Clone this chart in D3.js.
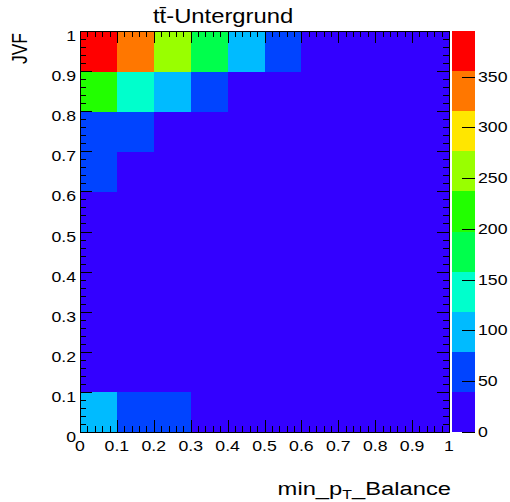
<!DOCTYPE html>
<html>
<head>
<meta charset="utf-8">
<script src="https://cdn.jsdelivr.net/npm/d3@7/dist/d3.min.js"></script>
<style>
  html, body { margin: 0; padding: 0; background: #fff; }
  svg { display: block; font-family: "Liberation Sans", Arial, sans-serif; }
</style>
</head>
<body>
<svg id="chart" width="510" height="502"></svg>
<script>
// ---- data ----
const xEdges = [0, 0.1, 0.2, 0.3, 0.4, 0.5, 0.6, 0.7, 0.8, 0.9, 1.0];
const yEdges = [0, 0.1, 0.2, 0.3, 0.4, 0.5, 0.6, 0.7, 0.8, 0.9, 1.0];
// bin contents, one row per JVF bin (bottom to top), columns = min_pT_Balance bins
const row0 = [95, 55, 50, 12, 8, 6, 5, 4, 3, 3];
const row1 = [22, 14, 9, 6, 5, 4, 3, 3, 2, 2];
const row2 = [20, 12, 8, 6, 5, 4, 3, 2, 2, 2];
const row3 = [20, 12, 8, 6, 4, 3, 3, 2, 2, 1];
const row4 = [22, 13, 9, 6, 5, 4, 3, 2, 2, 2];
const row5 = [28, 16, 10, 7, 5, 4, 3, 3, 2, 2];
const row6 = [45, 25, 15, 10, 8, 6, 4, 3, 2, 2];
const row7 = [60, 48, 30, 18, 12, 8, 6, 4, 3, 2];
const row8 = [215, 140, 100, 55, 30, 18, 10, 6, 4, 3];
const row9 = [395, 330, 255, 180, 100, 52, 30, 15, 8, 5];
const rows = [row0, row1, row2, row3, row4, row5, row6, row7, row8, row9];
const xTickLabels = ["0", "0.1", "0.2", "0.3", "0.4", "0.5", "0.6", "0.7", "0.8", "0.9", "1"];
const yTickLabels = ["0", "0.1", "0.2", "0.3", "0.4", "0.5", "0.6", "0.7", "0.8", "0.9", "1"];
const zTicks = [0, 50, 100, 150, 200, 250, 300, 350];
const paletteColors = ["#3300ff", "#0044ff", "#00bbff", "#00ffcc", "#00ff4c",
                       "#22ff00", "#99ff00", "#ffe600", "#ff7700", "#ff0000"];
const titleText = "tt\u0304-Untergrund";
const xTitle = ["min_p", "T", "_Balance"];
const yTitle = "JVF";

// ---- layout ----
const L = 80, R = 449, T = 31, B = 432;
const palL = 452, palR = 475;
const SX = 1.22;           // horizontal text stretch seen in the reference
const FS = 14.5;           // tick label size

const svg = d3.select("#chart");
const x = d3.scaleLinear().domain([0, 1]).range([L, R]);
const y = d3.scaleLinear().domain([0, 1]).range([B, T]);
const zmax = d3.max(rows.flat());
const z = d3.scaleLinear().domain([0, zmax]).range([B, T]);
const color = d3.scaleQuantize().domain([0, zmax]).range(paletteColors);

// cells
const cells = [];
rows.forEach((r, j) => r.forEach((v, i) => cells.push({i, j, v})));
svg.append("g").selectAll("rect").data(cells).join("rect")
  .attr("x", d => x(xEdges[d.i]))
  .attr("y", d => y(yEdges[d.j + 1]))
  .attr("width", d => x(xEdges[d.i + 1]) - x(xEdges[d.i]) + 0.5)
  .attr("height", d => y(yEdges[d.j]) - y(yEdges[d.j + 1]) + 0.5)
  .attr("fill", d => color(d.v))
  .attr("shape-rendering", "crispEdges");

// palette
const nCol = paletteColors.length;
const bands = paletteColors.map((c, k) => ({c, lo: zmax * k / nCol, hi: zmax * (k + 1) / nCol}));
svg.append("g").selectAll("rect").data(bands).join("rect")
  .attr("x", palL).attr("width", palR - palL)
  .attr("y", d => z(d.hi)).attr("height", d => z(d.lo) - z(d.hi))
  .attr("fill", d => d.c)
  .attr("shape-rendering", "crispEdges");

// tick values
const major = d3.range(0, 11).map(k => k / 10);
const minor = d3.range(0, 51).map(k => k / 50).filter(v => Math.round(v * 50) % 5 !== 0);

// tick marks drawn as thin black rectangles positioned by the scales
const tg = svg.append("g").attr("fill", "#000");
function vt(vals, len) {
  vals.forEach(v => {
    const px = Math.round(x(v));
    tg.append("rect").attr("x", px).attr("width", 1).attr("y", B - len).attr("height", len);
    tg.append("rect").attr("x", px).attr("width", 1).attr("y", T).attr("height", len);
  });
}
function ht(vals, len) {
  vals.forEach(v => {
    const py = Math.round(y(v));
    tg.append("rect").attr("y", py).attr("height", 1).attr("x", L).attr("width", len);
    tg.append("rect").attr("y", py).attr("height", 1).attr("x", R - len).attr("width", len);
  });
}
vt(major, 12); vt(minor, 6);
ht(major, 12); ht(minor, 6);
zTicks.forEach(v => {
  const py = Math.round(z(v));
  tg.append("rect").attr("y", py).attr("height", 1).attr("x", palR - 13).attr("width", 13);
});

// frame
tg.append("rect").attr("x", L).attr("y", T).attr("width", 1).attr("height", B - T + 1);
tg.append("rect").attr("x", R).attr("y", T).attr("width", 1).attr("height", B - T + 1);
tg.append("rect").attr("x", L).attr("y", T).attr("width", R - L + 1).attr("height", 1);
tg.append("rect").attr("x", L).attr("y", B).attr("width", R - L + 1).attr("height", 1);

// stretched text helper
function stext(parent, xa, ya, str, size, anchor, sx) {
  return parent.append("text")
    .attr("transform", `translate(${xa},${ya}) scale(${sx || SX},1)`)
    .attr("text-anchor", anchor)
    .style("font-size", size + "px").attr("fill", "#000").text(str);
}

// tick labels
const lg = svg.append("g");
major.forEach((v, i) => stext(lg, x(v), 451, xTickLabels[i], FS, "middle"));
major.forEach((v, i) => stext(lg, 76, y(v) + 10, yTickLabels[i], FS, "end"));
zTicks.forEach(v => stext(lg, 478, z(v) + 5, d3.format("d")(v), FS, "start"));

// title
stext(svg, 153, 23, titleText, 20, "start", 1.19);

// x title
const xt = svg.append("text")
  .attr("transform", `translate(${R + 2},495) scale(1.32,1)`)
  .attr("text-anchor", "end").style("font-size", "18px").attr("fill", "#000");
xt.append("tspan").text(xTitle[0]);
xt.append("tspan").style("font-size", "12px").attr("dy", 4).text(xTitle[1]);
xt.append("tspan").attr("dy", -4).text(xTitle[2]);

// y title
svg.append("text").attr("transform", `translate(27,33) scale(${SX},1) rotate(-90)`)
  .attr("text-anchor", "end").style("font-size", "17.5px").attr("fill", "#000").text(yTitle);
</script>
</body>
</html>
